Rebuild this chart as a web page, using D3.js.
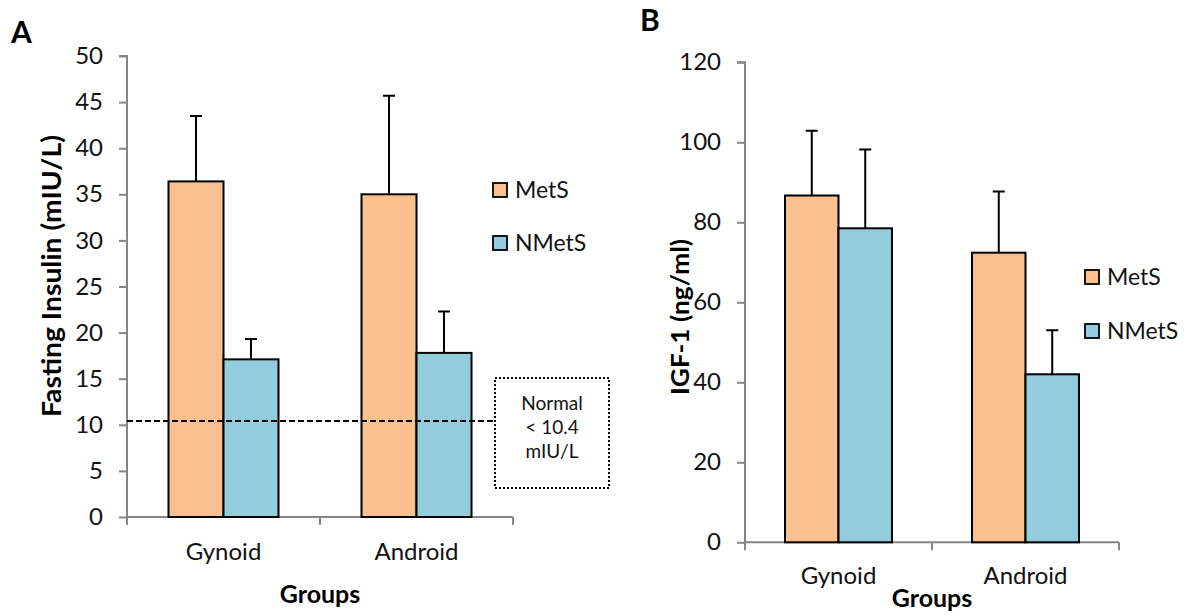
<!DOCTYPE html>
<html>
<head>
<meta charset="utf-8">
<script src="https://cdn.jsdelivr.net/npm/d3@7"></script>
<style>
  html, body { margin: 0; padding: 0; background: #fff; }
  svg { display: block; font-family: Lato, "Open Sans", sans-serif; }
</style>
</head>
<body>
<svg id="chart" width="1190" height="616"></svg>
<script>
// Groups and series
const groups = ["Gynoid", "Android"];
const series = ["MetS", "NMetS"];
const seriesColors = ["#FAC090", "#93CDDD"];

// Panel A: fasting insulin (mIU/L), mean and SD per group
const insulinMetS = [36.4, 35.0];
const insulinMetSErr = [7.1, 10.7];
const insulinNMetS = [17.1, 17.8];
const insulinNMetSErr = [2.2, 4.5];
const insulinTicks = [0, 5, 10, 15, 20, 25, 30, 35, 40, 45, 50];
const insulinNormal = 10.4;
const normalLines = ["Normal", "< 10.4", "mIU/L"];

// Panel B: IGF-1 (ng/ml), mean and SD per group
const igfMetS = [86.7, 72.4];
const igfMetSErr = [16.2, 15.3];
const igfNMetS = [78.5, 42.0];
const igfNMetSErr = [19.7, 11.0];
const igfTicks = [0, 20, 40, 60, 80, 100, 120];

const svg = d3.select("#chart");
const axisColor = "#868686";

function drawPanel(cfg) {
  const g = svg.append("g");
  const x = d3.scaleBand().domain(groups).range([cfg.x0, cfg.x1]);
  const y = d3.scaleLinear().domain(cfg.yDomain).range([cfg.y0, cfg.y1]);
  const bw = x.bandwidth();
  const gw = bw * cfg.groupFrac;
  const xs = d3.scaleBand().domain(series).range([(bw - gw) / 2, (bw + gw) / 2]);

  // y axis
  const yAxis = d3.axisLeft(y).tickValues(cfg.ticks).tickSize(8).tickPadding(16).tickFormat(d3.format("d"));
  const ya = g.append("g").attr("transform", `translate(${cfg.x0},0)`).call(yAxis);
  ya.select(".domain").attr("stroke", axisColor).attr("stroke-width", 2).attr("d", `M-8,${cfg.y1}H0V${cfg.y0}`);
  ya.selectAll(".tick line").attr("stroke", axisColor).attr("stroke-width", 2);
  ya.selectAll(".tick text").attr("fill", "#111").style("font-size", "24px").style("font-family", "Lato, sans-serif");

  // x axis with boundary ticks
  const xa = g.append("g");
  xa.append("line").attr("x1", cfg.x0).attr("x2", cfg.x1).attr("y1", cfg.y0).attr("y2", cfg.y0)
    .attr("stroke", axisColor).attr("stroke-width", 2);
  const bounds = groups.map(d => x(d)).concat([cfg.x1]);
  xa.selectAll("line.b").data(bounds).join("line").attr("class", "b")
    .attr("x1", d => d).attr("x2", d => d).attr("y1", cfg.y0).attr("y2", cfg.y0 + 8)
    .attr("stroke", axisColor).attr("stroke-width", 2);
  xa.selectAll("text").data(groups).join("text")
    .attr("x", d => x(d) + bw / 2).attr("y", cfg.y0 + cfg.catOffset)
    .attr("text-anchor", "middle").style("font-size", "24px").attr("fill", "#111").text(d => d);

  // bars and error bars
  const rows = [];
  groups.forEach((grp, i) => {
    series.forEach((s, j) => {
      rows.push({ grp, s, color: seriesColors[j], v: cfg.values[j][i], e: cfg.errors[j][i] });
    });
  });
  const bars = g.append("g");
  bars.selectAll("rect").data(rows).join("rect")
    .attr("x", d => x(d.grp) + xs(d.s)).attr("width", xs.bandwidth())
    .attr("y", d => y(d.v)).attr("height", d => y(0) - y(d.v))
    .attr("fill", d => d.color).attr("stroke", "#000").attr("stroke-width", 2);
  const cap = 6;
  const eb = g.append("g").attr("stroke", "#000").attr("stroke-width", 2);
  eb.selectAll("path").data(rows).join("path")
    .attr("fill", "none")
    .attr("d", d => {
      const cx = x(d.grp) + xs(d.s) + xs.bandwidth() / 2;
      const top = y(d.v + d.e);
      return `M${cx},${y(d.v)}V${top}M${cx - cap},${top}H${cx + cap}`;
    });

  // legend
  const lg = g.append("g");
  series.forEach((s, j) => {
    const cy = cfg.legY[j];
    lg.append("rect").attr("x", cfg.legX).attr("y", cy - 7).attr("width", 14).attr("height", 14)
      .attr("fill", seriesColors[j]).attr("stroke", "#000").attr("stroke-width", 1.8);
    lg.append("text").attr("x", cfg.legX + 22).attr("y", cy).attr("dy", "0.36em")
      .style("font-size", "23px").attr("fill", "#111").text(s);
  });

  // axis titles
  g.append("text").attr("transform", `translate(${cfg.yTitleX},${cfg.yTitleY}) rotate(-90)`)
    .attr("text-anchor", "middle").attr("dy", "0.35em").style("font-size", cfg.yTitleSize + "px").style("font-weight", "bold")
    .attr("textLength", cfg.yTitleLen).attr("lengthAdjust", "spacingAndGlyphs")
    .attr("fill", "#000").text(cfg.yTitle);
  g.append("text").attr("x", (cfg.x0 + cfg.x1) / 2).attr("y", cfg.xTitleY)
    .attr("text-anchor", "middle").style("font-size", "25px").style("font-weight", "bold")
    .attr("fill", "#000").text("Groups");

  // panel letter
  g.append("text").attr("x", cfg.letterX).attr("y", cfg.letterY)
    .style("font-size", "30px").style("font-weight", "bold").attr("fill", "#000").text(cfg.letter);

  return { g, x, y };
}

// Panel A
const A = drawPanel({
  x0: 127, x1: 513, y0: 517, y1: 56, yDomain: [0, 50], ticks: insulinTicks, groupFrac: 0.57,
  values: [insulinMetS, insulinNMetS], errors: [insulinMetSErr, insulinNMetSErr],
  catOffset: 43, legX: 493, legY: [190, 243],
  yTitle: "Fasting Insulin (mIU/L)", yTitleX: 52, yTitleY: 276, yTitleLen: 282, yTitleSize: 26, xTitleY: 603,
  letter: "A", letterX: 11, letterY: 43
});

// Normal-range reference line and note box
const boxL = 495, boxR = 609, boxT = 378, boxB = 488;
A.g.append("line").attr("x1", 127).attr("x2", boxL).attr("y1", A.y(insulinNormal)).attr("y2", A.y(insulinNormal))
  .attr("stroke", "#000").attr("stroke-width", 2).attr("stroke-dasharray", "6,3");
A.g.append("rect").attr("x", boxL).attr("y", boxT).attr("width", boxR - boxL).attr("height", boxB - boxT)
  .attr("fill", "none").attr("stroke", "#000").attr("stroke-width", 2).attr("stroke-dasharray", "2,2");
A.g.selectAll("text.note").data(normalLines).join("text").attr("class", "note")
  .attr("x", (boxL + boxR) / 2).attr("y", (d, i) => 410 + i * 24)
  .attr("text-anchor", "middle").style("font-size", "19px").attr("fill", "#111").text(d => d);

// Panel B
drawPanel({
  x0: 745, x1: 1119, y0: 542.3, y1: 62.3, yDomain: [0, 120], ticks: igfTicks, groupFrac: 0.572,
  values: [igfMetS, igfNMetS], errors: [igfMetSErr, igfNMetSErr],
  catOffset: 42, legX: 1085, legY: [277, 331],
  yTitle: "IGF-1 (ng/ml)", yTitleX: 681, yTitleY: 317, yTitleLen: 156, yTitleSize: 24, xTitleY: 607,
  letter: "B", letterX: 640, letterY: 31
});
</script>
</body>
</html>
